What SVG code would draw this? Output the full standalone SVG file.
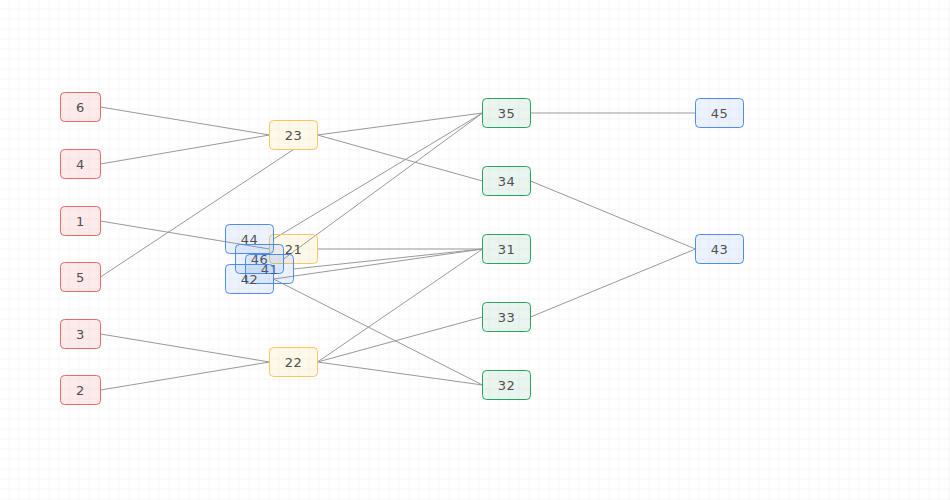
<svg xmlns="http://www.w3.org/2000/svg" width="950" height="500" viewBox="0 0 950 500">
  <defs>
    <pattern id="grid" width="10" height="10" patternUnits="userSpaceOnUse" x="-0.5" y="-0.5">
      <path d="M10 0 V10 M0 10 H10" fill="none" stroke="#eeeeee" stroke-width="1"/>
    </pattern>
    <style>
      .edge { stroke: #999999; stroke-width: 1; fill: none; }
      .node rect { stroke-width: 1; }
      .node text { font-family: "DejaVu Sans", "Liberation Sans", sans-serif; font-size: 13px; fill: #4f4f4f; text-anchor: middle; dominant-baseline: central; letter-spacing: 0.5px; }
      .red rect { fill: rgba(239, 83, 80, 0.12); stroke: #e36b6b; }
      .yellow rect { fill: rgba(251, 192, 45, 0.10); stroke: #f7c85f; }
      .green rect { fill: rgba(46, 160, 96, 0.10); stroke: #27a463; }
      .blue rect { fill: rgba(66, 133, 244, 0.10); stroke: #4f8af0; }
    </style>
  </defs>

  <rect width="950" height="500" fill="#ffffff"/>
  <rect width="950" height="500" fill="url(#grid)"/>

  <g id="edges">
    <line class="edge" x1="100.5" y1="107" x2="269.5" y2="135"/>
    <line class="edge" x1="100.5" y1="164" x2="269.5" y2="135"/>
    <line class="edge" x1="100.5" y1="277" x2="293.5" y2="149.5"/>
    <line class="edge" x1="100.5" y1="221" x2="269.5" y2="249"/>
    <line class="edge" x1="100.5" y1="334" x2="269.5" y2="362"/>
    <line class="edge" x1="100.5" y1="390" x2="269.5" y2="362"/>
    <line class="edge" x1="317.5" y1="135" x2="482.5" y2="113"/>
    <line class="edge" x1="317.5" y1="135" x2="482.5" y2="181"/>
    <line class="edge" x1="273.5" y1="239" x2="482.5" y2="113"/>
    <line class="edge" x1="283.5" y1="259" x2="482.5" y2="113"/>
    <line class="edge" x1="317.5" y1="249" x2="482.5" y2="249"/>
    <line class="edge" x1="293.5" y1="269" x2="482.5" y2="249"/>
    <line class="edge" x1="273.5" y1="279" x2="482.5" y2="249"/>
    <line class="edge" x1="273.5" y1="279" x2="482.5" y2="385"/>
    <line class="edge" x1="317.5" y1="362" x2="482.5" y2="249"/>
    <line class="edge" x1="317.5" y1="362" x2="482.5" y2="317"/>
    <line class="edge" x1="317.5" y1="362" x2="482.5" y2="385"/>
    <line class="edge" x1="530.5" y1="113" x2="695.5" y2="113"/>
    <line class="edge" x1="530.5" y1="181" x2="695.5" y2="249"/>
    <line class="edge" x1="530.5" y1="317" x2="695.5" y2="249"/>
  </g>

  <!-- source column -->
  <g id="n6" class="node red"><rect x="60.5" y="92.5" width="40" height="29" rx="4"/><text x="80.5" y="107">6</text></g>
  <g id="n4" class="node red"><rect x="60.5" y="149.5" width="40" height="29" rx="4"/><text x="80.5" y="164">4</text></g>
  <g id="n1" class="node red"><rect x="60.5" y="206.5" width="40" height="29" rx="4"/><text x="80.5" y="221">1</text></g>
  <g id="n5" class="node red"><rect x="60.5" y="262.5" width="40" height="29" rx="4"/><text x="80.5" y="277">5</text></g>
  <g id="n3" class="node red"><rect x="60.5" y="319.5" width="40" height="29" rx="4"/><text x="80.5" y="334">3</text></g>
  <g id="n2" class="node red"><rect x="60.5" y="375.5" width="40" height="29" rx="4"/><text x="80.5" y="390">2</text></g>

  <!-- second column -->
  <g id="n23" class="node yellow"><rect x="269.5" y="120.5" width="48" height="29" rx="4"/><text x="293.5" y="135">23</text></g>
  <g id="n21" class="node yellow"><rect x="269.5" y="234.5" width="48" height="29" rx="4"/><text x="293.5" y="249">21</text></g>
  <g id="n22" class="node yellow"><rect x="269.5" y="347.5" width="48" height="29" rx="4"/><text x="293.5" y="362">22</text></g>

  <!-- third column -->
  <g id="n35" class="node green"><rect x="482.5" y="98.5" width="48" height="29" rx="4"/><text x="506.5" y="113">35</text></g>
  <g id="n34" class="node green"><rect x="482.5" y="166.5" width="48" height="29" rx="4"/><text x="506.5" y="181">34</text></g>
  <g id="n31" class="node green"><rect x="482.5" y="234.5" width="48" height="29" rx="4"/><text x="506.5" y="249">31</text></g>
  <g id="n33" class="node green"><rect x="482.5" y="302.5" width="48" height="29" rx="4"/><text x="506.5" y="317">33</text></g>
  <g id="n32" class="node green"><rect x="482.5" y="370.5" width="48" height="29" rx="4"/><text x="506.5" y="385">32</text></g>

  <!-- sink column -->
  <g id="n45" class="node blue"><rect x="695.5" y="98.5" width="48" height="29" rx="4"/><text x="719.5" y="113">45</text></g>
  <g id="n43" class="node blue"><rect x="695.5" y="234.5" width="48" height="29" rx="4"/><text x="719.5" y="249">43</text></g>

  <!-- stacked cluster -->
  <g id="n44" class="node blue"><rect x="225.5" y="224.5" width="48" height="29" rx="4"/><text x="249.5" y="239">44</text></g>
  <g id="n46" class="node blue"><rect x="235.5" y="244.5" width="48" height="29" rx="4"/><text x="259.5" y="259">46</text></g>
  <g id="n41" class="node blue"><rect x="245.5" y="254.5" width="48" height="29" rx="4"/><text x="269.5" y="269">41</text></g>
  <g id="n42" class="node blue"><rect x="225.5" y="264.5" width="48" height="29" rx="4"/><text x="249.5" y="279">42</text></g>
</svg>
